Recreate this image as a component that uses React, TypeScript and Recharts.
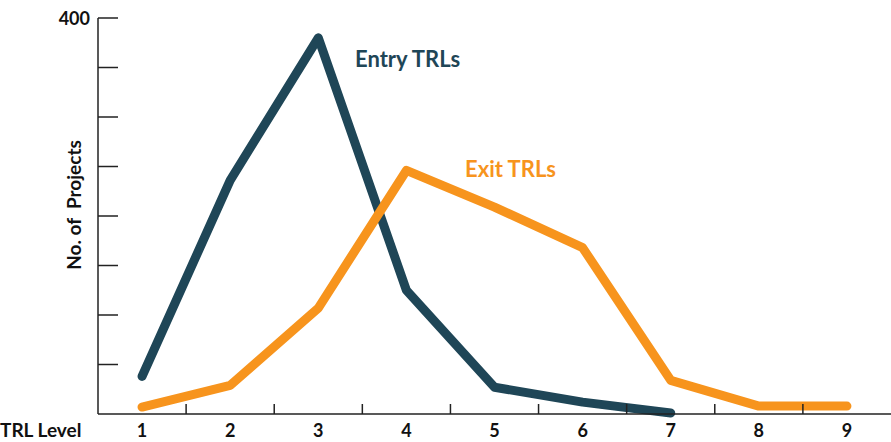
import { LineChart, Line, XAxis, YAxis } from 'recharts';

const trlLevels = [1, 2, 3, 4, 5, 6, 7, 8, 9];
const entryTrls = [38, 236, 380, 125, 27, 12, 1, null, null];
const exitTrls = [7, 29, 107, 246, 209, 168, 34, 8, 8];
const xTicks = [1, 1.5, 2, 2.5, 3, 3.5, 4, 4.5, 5, 5.5, 6, 6.5, 7, 7.5, 8, 8.5, 9];
const yTicks = [0, 50, 100, 150, 200, 250, 300, 350, 400];

const ENTRY_COLOR = '#1f4657';
const EXIT_COLOR = '#f7941d';
const AXIS_COLOR = '#222';
const FONT = 'Lato, "Open Sans", sans-serif';

const chartData = trlLevels.map((level, i) => ({
  level,
  entry: entryTrls[i],
  exit: exitTrls[i],
}));

// half positions get an inward tick mark, whole levels get a label
const XTick = ({ x, y, payload }: any) => {
  const v = payload.value;
  if (v % 1 !== 0) {
    return <line x1={x} x2={x} y1={y} y2={y - 10} stroke={AXIS_COLOR} strokeWidth={1.5} />;
  }
  return (
    <text x={x} y={y + 23} textAnchor="middle" fontFamily={FONT} fontWeight={700} fontSize={18} fill="#111">
      {v}
    </text>
  );
};

const YTick = ({ x, y, payload }: any) => (
  <g>
    {payload.value > 0 && <line x1={x} x2={x + 20} y1={y} y2={y} stroke={AXIS_COLOR} strokeWidth={1.5} />}
    {payload.value === 400 && (
      <text x={x - 8} y={y + 7} textAnchor="end" fontFamily={FONT} fontWeight={700} fontSize={18} fill="#111">
        400
      </text>
    )}
  </g>
);

export default function App() {
  return (
    <div style={{ position: 'absolute', left: 0, top: 0, width: 891, height: 442, background: '#fff' }}>
      <LineChart width={891} height={442} data={chartData} margin={{ top: 18, right: 0, bottom: 0, left: 0 }}>
        <XAxis
          dataKey="level"
          type="number"
          domain={[0.5, 9.5]}
          ticks={xTicks}
          interval={0}
          height={28}
          tickSize={0}
          tickMargin={0}
          tickLine={false}
          tick={<XTick />}
          axisLine={{ stroke: AXIS_COLOR, strokeWidth: 1.5 }}
        />
        <YAxis
          type="number"
          domain={[0, 400]}
          ticks={yTicks}
          interval={0}
          width={98}
          tickSize={0}
          tickMargin={0}
          tickLine={false}
          tick={<YTick />}
          axisLine={{ stroke: AXIS_COLOR, strokeWidth: 1.5 }}
        />
        <Line
          dataKey="entry"
          stroke={ENTRY_COLOR}
          strokeWidth={9}
          strokeLinecap="round"
          strokeLinejoin="round"
          dot={false}
          activeDot={false}
          isAnimationActive={false}
        />
        <Line
          dataKey="exit"
          stroke={EXIT_COLOR}
          strokeWidth={9}
          strokeLinecap="round"
          strokeLinejoin="round"
          dot={false}
          activeDot={false}
          isAnimationActive={false}
        />
      </LineChart>
      <svg width={891} height={442} style={{ position: 'absolute', left: 0, top: 0, pointerEvents: 'none' }}>
        <text
          x={0}
          y={0}
          transform="translate(81, 205) rotate(-90)"
          textAnchor="middle"
          fontFamily={FONT}
          fontWeight={700}
          fontSize={19}
          fill="#111"
          style={{ whiteSpace: 'pre' }}
        >
          {'No. of  Projects'}
        </text>
        <text x={0} y={437} fontFamily={FONT} fontWeight={700} fontSize={19} fill="#111">
          TRL Level
        </text>
        <text x={355} y={67} fontFamily={FONT} fontWeight={700} fontSize={22} fill={ENTRY_COLOR}>
          Entry TRLs
        </text>
        <text x={465} y={177} fontFamily={FONT} fontWeight={700} fontSize={22} fill={EXIT_COLOR}>
          Exit TRLs
        </text>
      </svg>
    </div>
  );
}
